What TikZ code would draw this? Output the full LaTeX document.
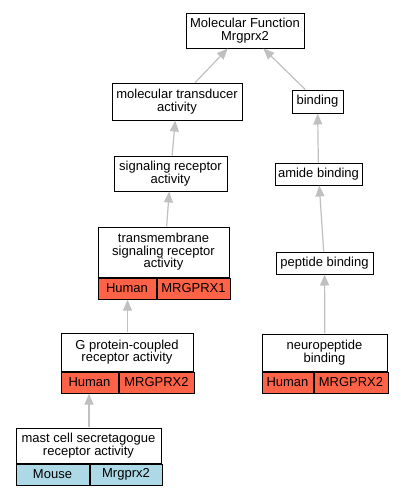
\documentclass[tikz,border=0pt]{standalone}
\usepackage{fontspec}
\setmainfont{Liberation Sans}
\usetikzlibrary{arrows.meta, fit}
\definecolor{humanred}{HTML}{FF6347}
\definecolor{mouseblue}{HTML}{ADD8E6}
\definecolor{edgegray}{HTML}{C0C0C0}

\begin{document}
\begin{tikzpicture}[x=1pt, y=-1pt,
    term/.style = {draw, line width=1pt, align=center, inner sep=1pt, font=\fontsize{13}{12.5}\selectfont},
    cell/.style = {draw, line width=1pt, anchor=north west, minimum height=21pt, inner sep=0pt, font=\fontsize{13}{12.5}\selectfont},
    human/.style = {cell, fill=humanred},
    mouse/.style = {cell, fill=mouseblue},
    isa/.style = {draw=edgegray, line width=1.2pt, -{Triangle[length=11pt, width=9pt]}}]
    \useasboundingbox (0,0) rectangle (401,496);
    \node[term, minimum width=118pt, minimum height=35pt] (mf) at (245,30.5) {Molecular Function\\Mrgprx2};
    \node[term, minimum width=130pt, minimum height=37pt] (mt) at (177,101.5) {molecular transducer\\activity};
    \node[term, minimum width=51pt, minimum height=23pt] (bind) at (317.5,101.5) {binding};
    \node[term, minimum width=113pt, minimum height=35pt] (sr) at (170.5,173.5) {signaling receptor\\activity};
    \node[term, minimum width=87pt, minimum height=22pt] (amide) at (318.5,174) {amide binding};
    \node[term, minimum width=131pt, minimum height=50pt] (tmL) at (163.5,252) {transmembrane\\signaling receptor\\activity};
    \node[human, minimum width=58pt] (tmA) at (tmL.south west) {Human};
    \node[human, minimum width=73pt] (tmB) at (tmA.north east) {MRGPRX1};
    \node[fit=(tmL)(tmA)(tmB), inner sep=0pt] (tm) {};
    \node[term, minimum width=97pt, minimum height=22pt] (pep) at (324.5,263) {peptide binding};
    \node[term, minimum width=132pt, minimum height=38pt] (gpL) at (127,352) {G protein-coupled\\receptor activity};
    \node[human, minimum width=57pt] (gpA) at (gpL.south west) {Human};
    \node[human, minimum width=75pt] (gpB) at (gpA.north east) {MRGPRX2};
    \node[fit=(gpL)(gpA)(gpB), inner sep=0pt] (gp) {};
    \node[term, minimum width=125pt, minimum height=37pt] (nbL) at (324.5,352.5) {neuropeptide\\binding};
    \node[human, minimum width=51pt] (nbA) at (nbL.south west) {Human};
    \node[human, minimum width=74pt] (nbB) at (nbA.north east) {MRGPRX2};
    \node[fit=(nbL)(nbA)(nbB), inner sep=0pt] (nb) {};
    \node[term, minimum width=145pt, minimum height=35pt] (mcL) at (88.5,445.5) {mast cell secretagogue\\receptor activity};
    \node[mouse, minimum width=73pt] (mcA) at (mcL.south west) {Mouse};
    \node[mouse, minimum width=72pt] (mcB) at (mcA.north east) {Mrgprx2};
    \node[fit=(mcL)(mcA)(mcB), inner sep=0pt] (mc) {};
    \draw[isa] (mt) -- (mf);
    \draw[isa] (bind) -- (mf);
    \draw[isa] (sr) -- (mt);
    \draw[isa] (amide) -- (bind);
    \draw[isa] (tm) -- (sr);
    \draw[isa] (pep) -- (amide);
    \draw[isa] (gp) -- (gp |- tm.south);
    \draw[isa] (nb) -- (pep);
    \draw[isa] (mc) -- (mc |- gp.south);
\end{tikzpicture}
\end{document}
